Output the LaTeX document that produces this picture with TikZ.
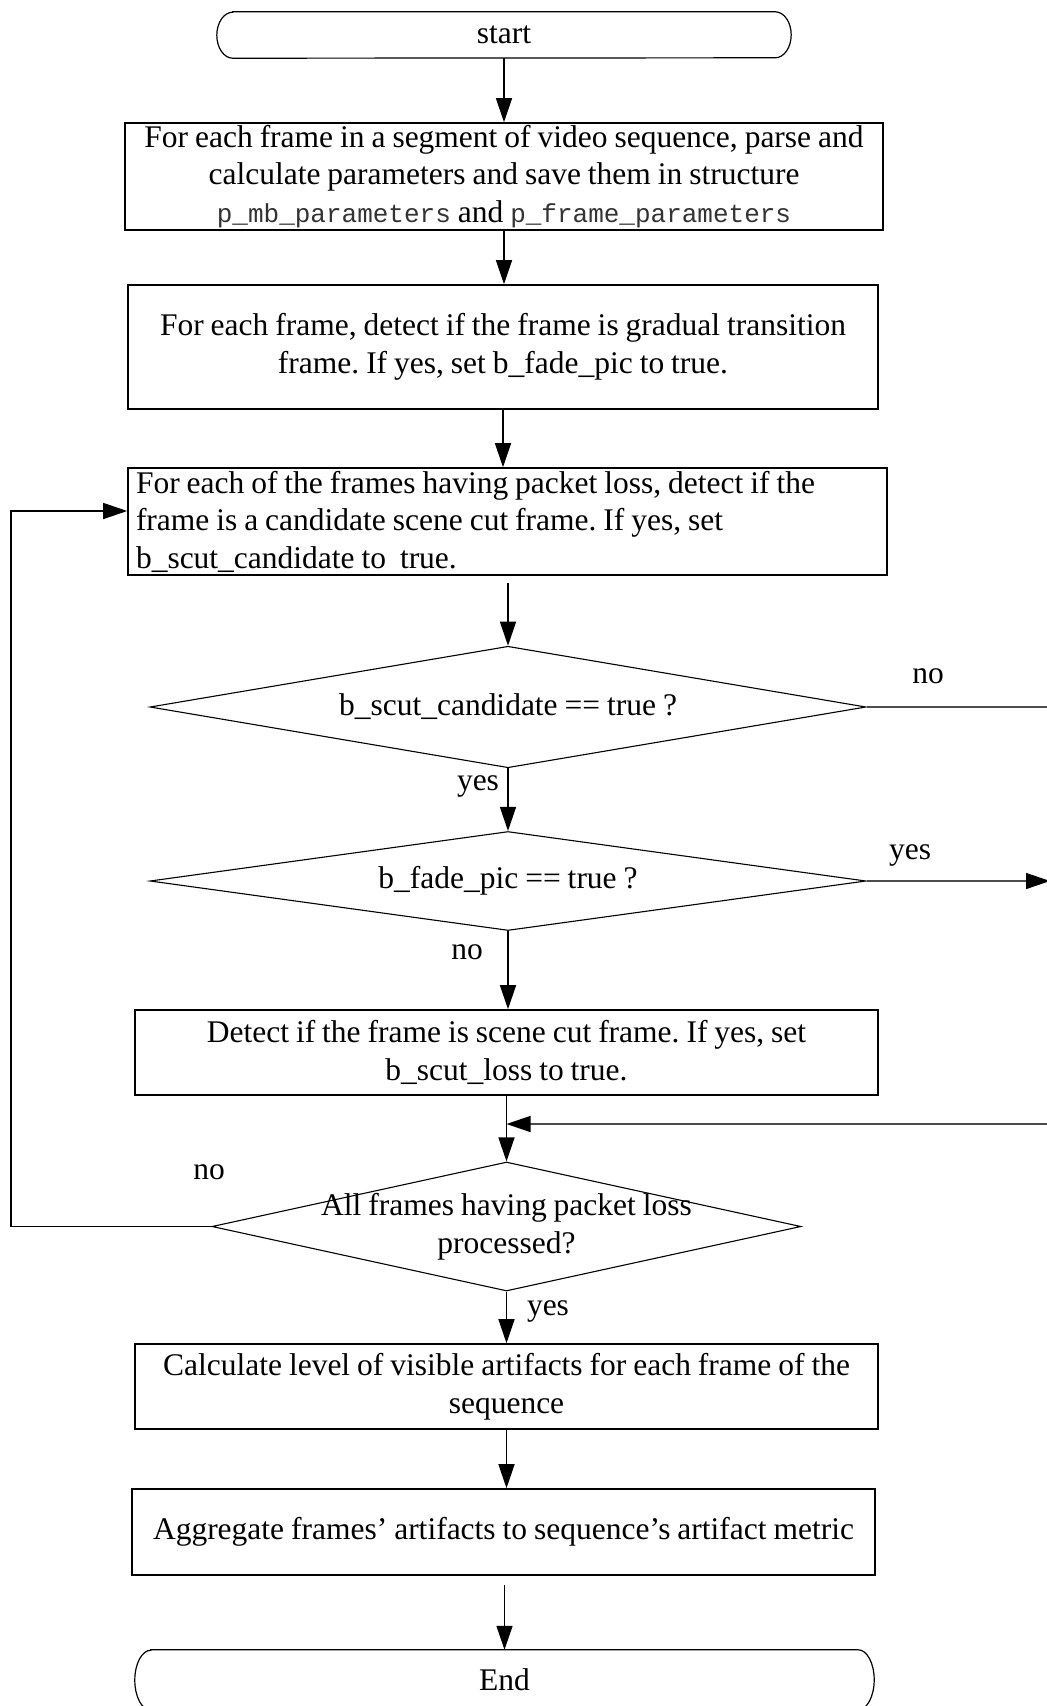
\documentclass[tikz,border=0pt]{standalone}
\usepackage{fontspec}
\setmainfont{Liberation Serif}
\setmonofont{Liberation Mono}
\usetikzlibrary{arrows.meta,shapes.geometric}
\newcommand{\code}[1]{{\ttfamily\fontsize{26}{37.5}\selectfont\color{black!80}#1}}
\newcommand{\tightspace}{\spaceskip=0.22em plus 0.05em minus 0.02em\relax}
\newcommand{\chartfont}{\fontsize{31.5}{37.5}\selectfont\tightspace}
\frenchspacing
\begin{document}
\begin{tikzpicture}[x=1pt,y=-1pt,
  every node/.style={font=\chartfont},
  procbox/.style={draw, line width=1.6pt, inner xsep=8pt, inner ysep=0pt, align=center},
  decision/.style={draw, diamond, line width=1.1pt, inner sep=0pt},
  lbl/.style={inner sep=0pt},
  arr/.style={line width=1.4pt, -{Triangle[length=24pt,width=16pt,color=black]}},
  side/.style={line width=1.4pt, draw=black!70},
  term/.style={line width=1.2pt}
]
\useasboundingbox (0,0) rectangle (1047,1706);
\clip (0,0) rectangle (1047,1706);

% terminals
\node[lbl, minimum width=574pt, minimum height=46pt] (st) at (504,35) {start};
\draw[term] ([xshift=16pt]st.north west) -- ([xshift=-16pt]st.north east)
  arc[start angle=90,end angle=-90,x radius=16pt,y radius=23pt]
  -- ([xshift=16pt]st.south west)
  arc[start angle=270,end angle=90,x radius=16pt,y radius=23pt] -- cycle;

\node[lbl, minimum width=739pt, minimum height=60pt] (en) at (504.5,1680) {End};
\draw[term] ([xshift=16pt]en.north west) -- ([xshift=-16pt]en.north east)
  arc[start angle=90,end angle=-90,x radius=16pt,y radius=30pt]
  -- ([xshift=16pt]en.south west)
  arc[start angle=270,end angle=90,x radius=16pt,y radius=30pt] -- cycle;

% process boxes
\node[procbox, minimum width=758pt, minimum height=107pt] (b1) at (504,176.5)
  {For each frame in a segment of video sequence, parse and\\
   calculate parameters and save them in structure\\
   \code{p\_mb\_parameters} and \code{p\_frame\_parameters}};
\node[procbox, minimum width=750pt, minimum height=124pt] (b2) at (503,347)
  {For each frame, detect if the frame is gradual transition\\
   frame. If yes, set b\_fade\_pic to true.};
\node[procbox, minimum width=759pt, minimum height=107pt, text width=743pt, align=left] (b3) at (507.5,521.5)
  {\tightspace For each of the frames having packet loss, detect if the\\
   frame is a candidate scene cut frame. If yes, set\\
   b\_scut\_candidate to \ true.};
\node[procbox, minimum width=743pt, minimum height=85pt] (b4) at (506.5,1052.5)
  {Detect if the frame is scene cut frame. If yes, set\\
   b\_scut\_loss to true.};
\node[procbox, minimum width=743pt, minimum height=85pt] (b5) at (506.5,1386.5)
  {Calculate level of visible artifacts for each frame of the\\
   sequence};
\node[procbox, minimum width=743pt, minimum height=86pt] (b6) at (503.5,1532)
  {Aggregate frames’ artifacts to sequence’s artifact metric};

% decisions
\node[decision, minimum width=716pt, minimum height=121.5pt] (d1) at (508,707) {};
\node[lbl] (t1) at (d1) {b\_scut\_candidate == true ?};
\node[decision, minimum width=716pt, minimum height=99pt] (d2) at (508,881) {};
\node[lbl] (t2) at (d2) {b\_fade\_pic == true ?};
\node[decision, minimum width=589pt, minimum height=129pt] (d3) at (506.5,1226.5) {};
\node[lbl, align=center] (t3) at (d3) {All frames having packet loss\\processed?};

% main flow
\draw[arr] (st) -- (b1);
\draw[arr] (b1.south) -- (b1.south |- b2.north);
\draw[arr] (b2.south) -- (b2.south |- b3.north);
\draw[arr] ([yshift=-7pt]b3.south -| d1.north) -- (d1.north);
\draw[arr] (d1.south) -- (d2.north);
\draw[arr] (d2.south) -- (d2.south |- b4.north);
\draw[arr] (b4.south -| d3.north) -- (d3.north);
\draw[arr] (d3.south) -- (d3.south |- b5.north);
\draw[arr] (b5.south) -- (b5.south |- b6.north);
\draw[arr] ([yshift=-9pt]b6.south -| en.north) -- (en.north);

% branches leaving to the right
\coordinate (r1) at (1047,707);
\coordinate (r2) at (1050,881);
\coordinate (r3) at (1047,1124);
\draw[side] (d1.east) -- (r1);
\draw[side, arr] (d2.east) -- (r2);
\draw[side, arr] (r3) -- (r3 -| d3.north);

% loop back
\coordinate (l1) at (11,1226.5);
\coordinate (l2) at (11,511);
\draw[arr] (d3.west) -- (l1) -- (l2) -- (l2 -| b3.west);

% branch labels
\node[lbl] (n1) at (928,676) {no};
\node[lbl] (y1) at (478,786) {yes};
\node[lbl] (y2) at (910,855) {yes};
\node[lbl] (n2) at (467,952) {no};
\node[lbl] (n3) at (209,1172) {no};
\node[lbl] (y3) at (548,1311) {yes};
\end{tikzpicture}
\end{document}
